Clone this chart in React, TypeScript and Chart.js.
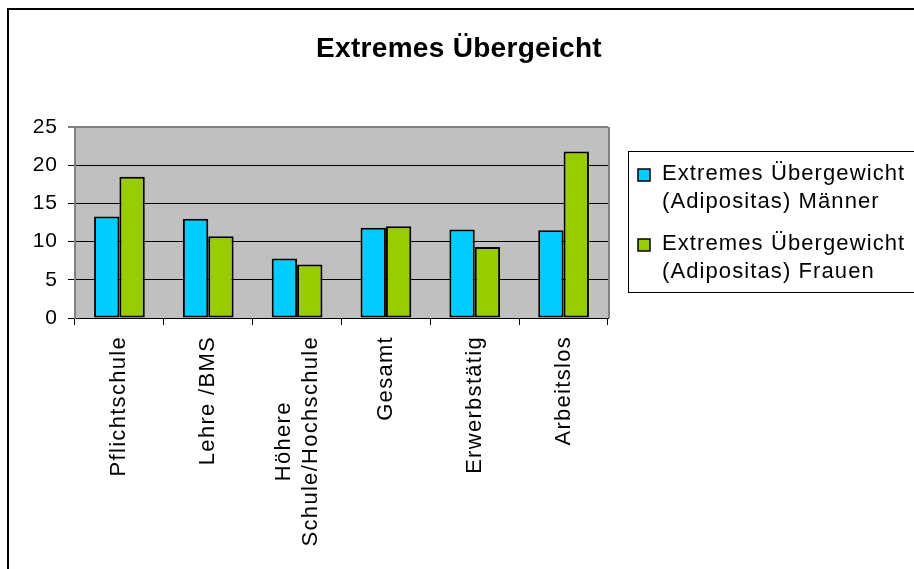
import { useEffect, useRef } from "react";
import { Chart, registerables } from "chart.js";

Chart.register(...registerables);

// Category labels (multi-line entries are drawn as stacked rotated lines)
const categories: string[][] = [
  ["Pflichtschule"],
  ["Lehre /BMS"],
  ["Höhere", "Schule/Hochschule"],
  ["Gesamt"],
  ["Erwerbstätig"],
  ["Arbeitslos"],
];

const chartTitle = "Extremes Übergeicht";

const seriesMen = ["Extremes Übergewicht", "(Adipositas) Männer"];
const seriesWomen = ["Extremes Übergewicht", "(Adipositas) Frauen"];

const valuesMen = [13.3, 13.0, 7.8, 11.8, 11.6, 11.5];
const valuesWomen = [18.5, 10.7, 7.0, 12.0, 9.3, 21.8];

const yTicks = [0, 5, 10, 15, 20, 25];

const FONT = '"Liberation Sans", Arial, Helvetica, sans-serif';
const COLOR_MEN = "#00CCFF";
const COLOR_WOMEN = "#99CC00";
const PLOT_BG = "#C0C0C0";
const FRAME_GRAY = "#808080";

const legendLines = [seriesMen, seriesWomen];

const decorPlugin = {
  id: "decor",
  beforeDraw(chart: any) {
    const { ctx, chartArea, width, height } = chart;
    ctx.save();
    ctx.fillStyle = "#FFFFFF";
    ctx.fillRect(0, 0, width, height);
    ctx.fillStyle = PLOT_BG;
    ctx.fillRect(
      chartArea.left,
      chartArea.top,
      chartArea.right - chartArea.left,
      chartArea.bottom - chartArea.top
    );
    ctx.restore();
    (ctx as any).letterSpacing = "1px";
  },
  afterDatasetsDraw(chart: any) {
    const { ctx, chartArea } = chart;
    ctx.save();
    ctx.strokeStyle = FRAME_GRAY;
    ctx.lineWidth = 2;
    ctx.beginPath();
    ctx.moveTo(chartArea.right + 1, chartArea.top);
    ctx.lineTo(chartArea.right + 1, chartArea.bottom);
    ctx.stroke();
    ctx.restore();
  },
  afterDraw(chart: any) {
    const { ctx, chartArea } = chart;
    const xs = chart.scales.x;

    // Title
    ctx.save();
    (ctx as any).letterSpacing = "0.3px";
    ctx.fillStyle = "#000";
    ctx.font = `bold 28px ${FONT}`;
    ctx.textAlign = "center";
    ctx.textBaseline = "alphabetic";
    ctx.fillText(chartTitle, 459, 57);
    ctx.restore();

    // Rotated category labels
    ctx.save();
    (ctx as any).letterSpacing = "1.3px";
    ctx.fillStyle = "#000";
    ctx.font = `22px ${FONT}`;
    ctx.textBaseline = "middle";
    ctx.textAlign = "center";
    categories.forEach((lines, i) => {
      const cx = xs.getPixelForValue(i);
      const widths = lines.map((l) => ctx.measureText(l).width);
      const maxW = Math.max(...widths);
      ctx.save();
      ctx.translate(cx, chartArea.bottom + 18);
      ctx.rotate(-Math.PI / 2);
      lines.forEach((line, j) => {
        const off = (j - (lines.length - 1) / 2) * 27;
        ctx.fillText(line, -maxW / 2, off);
      });
      ctx.restore();
    });
    ctx.restore();

    // Legend
    ctx.save();
    ctx.strokeStyle = "#000";
    ctx.lineWidth = 1;
    ctx.strokeRect(628.5, 151.5, 400, 141);
    (ctx as any).letterSpacing = "1.1px";
    ctx.font = `22px ${FONT}`;
    ctx.textAlign = "left";
    ctx.textBaseline = "alphabetic";
    chart.data.datasets.forEach((ds: any, k: number) => {
      const dy = k * 70;
      ctx.fillStyle = ds.backgroundColor;
      ctx.fillRect(638, 169 + dy, 12, 12);
      ctx.lineWidth = 1.5;
      ctx.strokeStyle = "#000";
      ctx.strokeRect(638, 169 + dy, 12, 12);
      ctx.fillStyle = "#000";
      legendLines[k].forEach((line, j) => {
        ctx.fillText(line, 662, 180 + dy + j * 28);
      });
    });
    ctx.restore();

    // Outer frame
    ctx.save();
    ctx.strokeStyle = "#000";
    ctx.lineWidth = 2;
    ctx.strokeRect(8, 9, 1000, 1000);
    ctx.restore();
  },
};

export default function App() {
  const canvasRef = useRef<HTMLCanvasElement | null>(null);

  useEffect(() => {
    const canvas = canvasRef.current;
    if (!canvas) return;
    const chart = new Chart(canvas, {
      type: "bar",
      data: {
        labels: categories,
        datasets: [
          {
            label: seriesMen.join(" "),
            data: valuesMen,
            backgroundColor: COLOR_MEN,
            borderColor: "#000",
            borderWidth: 2,
            borderSkipped: false,
            categoryPercentage: 0.571,
            barPercentage: 1,
          },
          {
            label: seriesWomen.join(" "),
            data: valuesWomen,
            backgroundColor: COLOR_WOMEN,
            borderColor: "#000",
            borderWidth: 2,
            borderSkipped: false,
            categoryPercentage: 0.571,
            barPercentage: 1,
          },
        ],
      },
      options: {
        responsive: false,
        animation: false,
        devicePixelRatio: 1,
        layout: { padding: { top: 127, right: 306, left: 0, bottom: 0 } },
        plugins: {
          legend: { display: false },
          title: { display: false },
          tooltip: { enabled: false },
        },
        scales: {
          x: {
            grid: {
              offset: true,
              drawOnChartArea: false,
              color: "#000",
              tickLength: 7,
              lineWidth: 1,
            },
            border: { color: "#000", width: 1 },
            ticks: { display: false },
            afterFit: (s: any) => {
              s.height = 251;
            },
          },
          y: {
            min: 0,
            max: 25,
            afterBuildTicks: (s: any) => {
              s.ticks = yTicks.map((v) => ({ value: v }));
            },
            grid: {
              color: (c: any) =>
                c.tick && c.tick.value === 25 ? FRAME_GRAY : "#000",
              lineWidth: (c: any) => (c.tick && c.tick.value === 25 ? 2 : 1),
              tickLength: 7,
            },
            border: { color: FRAME_GRAY, width: 2 },
            ticks: {
              color: "#000",
              font: { family: FONT, size: 21 },
              padding: 10,
            },
            afterFit: (s: any) => {
              s.width = 75;
            },
          },
        },
      },
      plugins: [decorPlugin],
    } as any);
    return () => chart.destroy();
  }, []);

  return (
    <div style={{ position: "absolute", left: 0, top: 0, width: 914, height: 569 }}>
      <canvas
        ref={canvasRef}
        width={914}
        height={569}
        style={{ display: "block", width: 914, height: 569 }}
      />
    </div>
  );
}
